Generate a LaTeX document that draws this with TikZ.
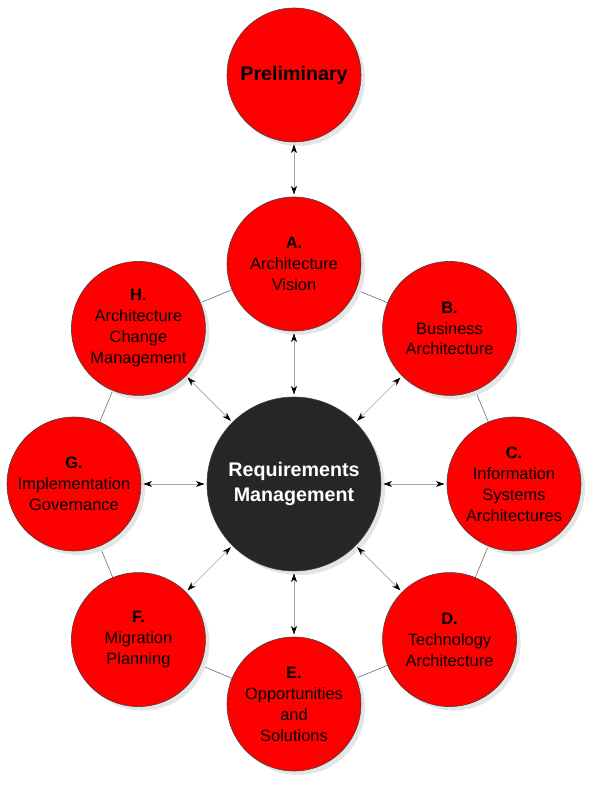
\documentclass[tikz,border=0pt]{standalone}
\usepackage{fontspec}
\setmainfont{Liberation Sans}
\usetikzlibrary{arrows.meta,shadows,backgrounds}

\begin{document}
\begin{tikzpicture}[
        phase/.style={circle, draw=black!75, line width=0.4pt, fill=red, minimum size=3.35cm, inner sep=0pt, align=center,
            font=\fontsize{11.7}{14.9}\selectfont,
            drop shadow={shadow xshift=0.1cm, shadow yshift=-0.1cm, fill=black!10, opacity=1}},
        hub/.style={phase, fill=black!85, minimum size=4.35cm, text=white, font=\bfseries\fontsize{14}{17.7}\selectfont},
        link/.style={draw=black!60, line width=0.4pt},
        both/.style={{Stealth[black,length=2.2mm,width=1.5mm]}-{Stealth[black,length=2.2mm,width=1.5mm]}, draw=black!35, line width=0.5pt, shorten <=1.5pt, shorten >=1.5pt}]

        \useasboundingbox (-7.35,-7.625) rectangle (7.65,12.1);

        \node[hub] (req) at (0,0) {Requirements\\Management};
        \node[phase, font=\bfseries\fontsize{14}{17}\selectfont] (pre) at (0,10.225) {Preliminary};

        % the eight phases round the hub
        \node[phase] (a) at (90:5.5) {\textbf{A.}\\Architecture\\Vision};
        \node[phase] (b) at (45:5.5) {\textbf{B.}\\Business\\Architecture};
        \node[phase] (c) at (0:5.5) {\textbf{C.}\\Information\\Systems\\Architectures};
        \node[phase] (d) at (-45:5.5) {\textbf{D.}\\Technology\\Architecture};
        \node[phase] (e) at (-90:5.5) {\textbf{E.}\\Opportunities\\and\\Solutions};
        \node[phase] (f) at (-135:5.5) {\textbf{F.}\\Migration\\Planning};
        \node[phase] (g) at (180:5.5) {\textbf{G.}\\Implementation\\Governance};
        \node[phase] (h) at (135:5.5) {\textbf{H.}\\Architecture\\Change\\Management};

        \begin{scope}[on background layer]
            \foreach \from/\to in {a/b, b/c, c/d, d/e, e/f, f/g, g/h, h/a}
                \draw[link] (\from.center) -- (\to.center);
        \end{scope}

        \foreach \p in {a,b,c,d,e,f,g,h}
            \draw[both] (req) -- (\p);
        \draw[both] (pre) -- (a);
    \end{tikzpicture}
\end{document}
